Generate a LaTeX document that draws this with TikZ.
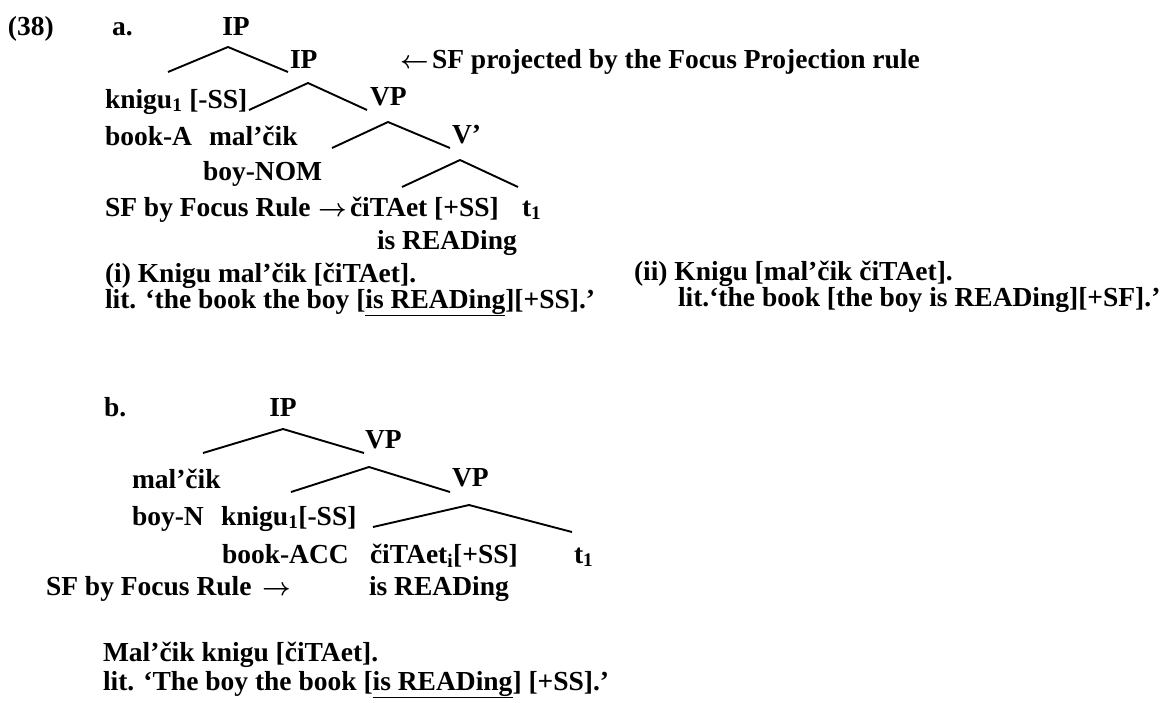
\documentclass[tikz,border=0pt]{standalone}
\usepackage{fontspec}
\setmainfont{Liberation Serif}
\begin{document}
\begin{tikzpicture}[x=1pt,y=-1pt,
  every node/.style={inner sep=0pt,outer sep=0pt,font=\fontsize{27.5}{32}\selectfont\bfseries\boldmath},
  txt/.style={anchor=base west},
  lbl/.style={anchor=base},
  br/.style={line width=1.9pt,line join=round}]
\useasboundingbox (0,0) rectangle (1166,702);
% ---------- (38a) ----------
\node[txt] (n38) at (8,35) {(38)};
\node[txt] (na) at (112,35) {a.};
\node[lbl] (ip1) at (236,35) {IP};
\node[txt] (ip2) at (290,68) {IP};
\node[txt] (arrl) at (400,68) {$\leftarrow$};
\node[txt] (sfp) at (432,68) {SF projected by the Focus Projection rule};
\node[txt] (knigu) at (105,108) {knigu\textsubscript{1} [-SS]};
\node[txt] (vp) at (370,105) {VP};
\node[txt] (booka) at (105,145) {book-A};
\node[txt] (mala) at (209,145) {mal’čik};
\node[txt] (vbar) at (452,143) {V’};
\node[txt] (boynom) at (203,180) {boy-NOM};
\node[txt] (sfr) at (105,216) {SF by Focus Rule};
\node[txt] (arrr) at (318,216) {$\rightarrow$};
\node[txt] (cita) at (350,216) {čiTAet [+SS]};
\node[txt] (t1a) at (522,216) {t\textsubscript{1}};
\node[txt] (isr) at (377,249) {is READing};
\node[txt] (ex1) at (105,282) {(i) Knigu mal’čik [čiTAet].};
\node[txt] (lit1) at (105,308) {lit. ‘the book the boy [\underline{is READing}][+SS].’};
\node[txt] (ex2) at (634,280) {(ii) Knigu [mal’čik čiTAet].};
\node[txt] (lit2) at (678,306) {lit.‘the book [the boy is READing][+SF].’};
\coordinate (a1L) at (168,72);  \coordinate (a1A) at (228,47);  \coordinate (a1R) at (288,72);
\coordinate (a2L) at (249,110); \coordinate (a2A) at (308,83);  \coordinate (a2R) at (367,110);
\coordinate (a3L) at (332,148); \coordinate (a3A) at (388,122); \coordinate (a3R) at (450,148);
\coordinate (a4L) at (402,187); \coordinate (a4A) at (460,160); \coordinate (a4R) at (518,187);
\draw[br] (a1L) -- (a1A) -- (a1R);
\draw[br] (a2L) -- (a2A) -- (a2R);
\draw[br] (a3L) -- (a3A) -- (a3R);
\draw[br] (a4L) -- (a4A) -- (a4R);
% ---------- (38b) ----------
\node[txt] (nb) at (104,416) {b.};
\node[lbl] (ipb) at (283,416) {IP};
\node[txt] (vpb1) at (365,448) {VP};
\node[txt] (malcik) at (132,488) {mal’čik};
\node[txt] (vpb2) at (452,486) {VP};
\node[txt] (boyn) at (132,525) {boy-N};
\node[txt] (knigub) at (221,525) {knigu\textsubscript{1}[-SS]};
\node[txt] (bookacc) at (222,563) {book-ACC};
\node[txt] (cit) at (370,563) {čiTAet\textsubscript{i}[+SS]};
\node[txt] (t1b) at (574,563) {t\textsubscript{1}};
\node[txt] (sfb) at (46,595) {SF by Focus Rule};
\node[txt] (arrb) at (262,595) {$\rightarrow$};
\node[txt] (isrb) at (369,595) {is READing};
\node[txt] (ex3) at (103,661) {Mal’čik knigu [čiTAet].};
\node[txt] (lit3) at (103,690) {lit. ‘The boy the book [\underline{is READing}] [+SS].’};
\coordinate (b1L) at (203,453); \coordinate (b1A) at (283,429); \coordinate (b1R) at (364,453);
\coordinate (b2L) at (291,492); \coordinate (b2A) at (369,467); \coordinate (b2R) at (450,492);
\coordinate (b3L) at (373,527); \coordinate (b3A) at (469,505); \coordinate (b3R) at (572,532);
\draw[br] (b1L) -- (b1A) -- (b1R);
\draw[br] (b2L) -- (b2A) -- (b2R);
\draw[br] (b3L) -- (b3A) -- (b3R);
\end{tikzpicture}
\end{document}
